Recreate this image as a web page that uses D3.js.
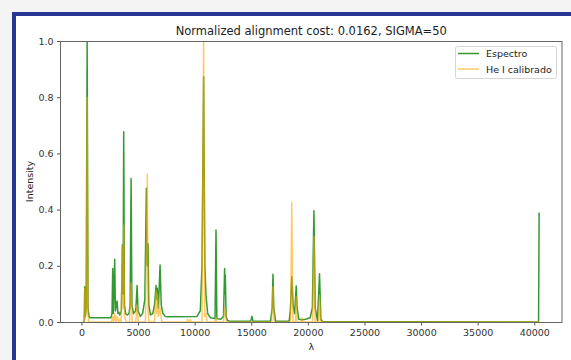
<!DOCTYPE html>
<html>
<head>
<meta charset="utf-8">
<script src="https://cdn.jsdelivr.net/npm/d3@7"></script>
<style>
  html, body { margin: 0; padding: 0; background: #f4f4f4; }
  svg { display: block; font-family: "DejaVu Sans", sans-serif; }
</style>
</head>
<body>
<svg id="chart" width="571" height="360"></svg>
<script>
// Espectro (observed spectrum): [lambda, intensity]
const espectro = [
  [160, 0.0], [250, 0.005], [291, 0.125], [340, 0.02], [420, 0.05], [503, 1.0],
  [580, 0.05], [660, 0.02], [760, 0.015], [2600, 0.015], [2700, 0.03], [2762, 0.19],
  [2820, 0.03], [2939, 0.223], [3000, 0.04], [3150, 0.075], [3220, 0.03], [3300, 0.035],
  [3380, 0.025], [3450, 0.03], [3530, 0.04], [3618, 0.274], [3680, 0.1], [3733, 0.677],
  [3800, 0.06], [3900, 0.03], [4050, 0.025], [4200, 0.03], [4300, 0.06], [4386, 0.511],
  [4460, 0.06], [4600, 0.03], [4800, 0.04], [4916, 0.13], [5000, 0.04], [5200, 0.02],
  [5400, 0.03], [5600, 0.08], [5736, 0.476], [5800, 0.2], [5886, 0.278], [5950, 0.06],
  [6100, 0.025], [6300, 0.03], [6450, 0.06], [6592, 0.13], [6650, 0.08], [6707, 0.12],
  [6800, 0.05], [6945, 0.203], [7050, 0.06], [7200, 0.03], [7400, 0.02], [7600, 0.019],
  [10200, 0.02], [10500, 0.04], [10650, 0.2], [10793, 0.873], [10900, 0.2], [11005, 0.093],
  [11150, 0.03], [11400, 0.015], [11800, 0.012], [11887, 0.327], [11960, 0.012],
  [12300, 0.01], [12550, 0.02], [12646, 0.19], [12680, 0.1], [12708, 0.167], [12780, 0.02],
  [12900, 0.005], [13100, 0.003], [14950, 0.003], [15064, 0.02], [15150, 0.003],
  [16700, 0.003], [16850, 0.05], [16918, 0.17], [16990, 0.05], [17150, 0.003],
  [18350, 0.003], [18450, 0.04], [18577, 0.161], [18700, 0.06], [18830, 0.03],
  [18974, 0.128], [19050, 0.05], [19200, 0.01], [19500, 0.008], [19800, 0.01],
  [20200, 0.015], [20400, 0.05], [20536, 0.396], [20650, 0.05], [20850, 0.005],
  [21030, 0.172], [21150, 0.01], [21300, 0.002], [40380, 0.0], [40430, 0.39]
];

// He I calibrado (reference lines, calibrated): [lambda, intensity]
const heCalibrado = [
  [160, 0.0], [260, 0.0], [291, 0.12], [340, 0.01], [430, 0.05], [503, 0.80],
  [570, 0.03], [650, 0.0], [2650, 0.0], [2762, 0.02], [2850, 0.0], [2939, 0.03],
  [3050, 0.0], [3150, 0.02], [3300, 0.0], [3400, 0.01], [3500, 0.0], [3618, 0.27],
  [3680, 0.05], [3733, 0.345], [3800, 0.02], [3950, 0.0], [4250, 0.0], [4386, 0.14],
  [4480, 0.0], [4800, 0.0], [4916, 0.06], [5020, 0.0], [5650, 0.0], [5820, 0.527],
  [5880, 0.05], [5950, 0.0], [6450, 0.0], [6592, 0.11], [6650, 0.03], [6707, 0.1],
  [6800, 0.02], [6945, 0.05], [7100, 0.0], [9300, 0.0], [9380, 0.01], [9460, 0.0],
  [9560, 0.0], [9620, 0.008], [9700, 0.0], [10650, 0.0], [10793, 1.0], [10900, 0.02],
  [11005, 0.03], [11100, 0.0], [11800, 0.0], [11887, 0.015], [11970, 0.0], [12550, 0.0],
  [12646, 0.05], [12708, 0.04], [12800, 0.0], [16800, 0.0], [16918, 0.126], [17020, 0.0],
  [18480, 0.0], [18577, 0.425], [18680, 0.0], [18900, 0.0], [18974, 0.09], [19060, 0.0],
  [19400, 0.0], [19477, 0.015], [19550, 0.0], [20420, 0.0], [20536, 0.304], [20640, 0.0],
  [20940, 0.0], [21030, 0.096], [21120, 0.0], [40430, 0.0]
];

const xTicks = [0, 5000, 10000, 15000, 20000, 25000, 30000, 35000, 40000];
const yTicks = [0.0, 0.2, 0.4, 0.6, 0.8, 1.0];
const seriesNames = ["Espectro", "He I calibrado"];

const svg = d3.select("#chart");

// outer frame (blue border on top/left, runs off canvas)
svg.append("rect")
  .attr("x", 14).attr("y", 14)
  .attr("width", 600).attr("height", 400)
  .attr("fill", "#fff")
  .attr("stroke", "#283593")
  .attr("stroke-width", 4);

const plotLeft = 60.5, plotRight = 562, plotTop = 41, plotBottom = 322;

const x = d3.scaleLinear().domain([-1850, 42450]).range([plotLeft, plotRight]);
const y = d3.scaleLinear().domain([0, 1]).range([plotBottom, plotTop]);

svg.append("defs").append("clipPath").attr("id", "plot-clip")
  .append("rect")
  .attr("x", plotLeft).attr("y", plotTop)
  .attr("width", plotRight - plotLeft).attr("height", plotBottom - plotTop);

const line = d3.line().x(d => x(d[0])).y(d => y(d[1]));

const plot = svg.append("g").attr("clip-path", "url(#plot-clip)");

plot.append("path")
  .datum(espectro)
  .attr("d", line)
  .attr("fill", "none")
  .attr("stroke", "green")
  .attr("stroke-opacity", 0.8)
  .attr("stroke-width", 1.5)
  .attr("stroke-linejoin", "round");

plot.append("path")
  .datum(heCalibrado)
  .attr("d", line)
  .attr("fill", "none")
  .attr("stroke", "orange")
  .attr("stroke-opacity", 0.6)
  .attr("stroke-width", 1.5)
  .attr("stroke-linejoin", "round");

// axes
const xAxis = svg.append("g")
  .attr("transform", `translate(0,${plotBottom})`)
  .call(d3.axisBottom(x).tickValues(xTicks).tickFormat(d3.format("d"))
    .tickSize(3.5).tickPadding(3.5).tickSizeOuter(0));

const yAxis = svg.append("g")
  .attr("transform", `translate(${plotLeft},0)`)
  .call(d3.axisLeft(y).tickValues(yTicks).tickFormat(d3.format(".1f"))
    .tickSize(3.5).tickPadding(3.5).tickSizeOuter(0));

[xAxis, yAxis].forEach(a => {
  a.select(".domain").remove();
  a.selectAll("line").attr("stroke", "#555");
  a.selectAll("text").attr("fill", "#333").attr("font-size", 9.5)
    .attr("font-family", "DejaVu Sans");
});

// spines
svg.append("rect")
  .attr("x", plotLeft).attr("y", plotTop + 0.5)
  .attr("width", plotRight - plotLeft).attr("height", plotBottom - plotTop)
  .attr("fill", "none")
  .attr("stroke", "#666")
  .attr("stroke-width", 1);

// title and labels
svg.append("text")
  .attr("x", (plotLeft + plotRight) / 2).attr("y", 35)
  .attr("text-anchor", "middle")
  .attr("font-size", 11.5)
  .attr("fill", "#222")
  .text("Normalized alignment cost: 0.0162, SIGMA=50");

svg.append("text")
  .attr("x", (plotLeft + plotRight) / 2).attr("y", 350)
  .attr("text-anchor", "middle")
  .attr("font-size", 9.5)
  .attr("fill", "#222")
  .text("λ");

svg.append("text")
  .attr("transform", `translate(33,${(plotTop + plotBottom) / 2}) rotate(-90)`)
  .attr("text-anchor", "middle")
  .attr("font-size", 9.5)
  .attr("fill", "#222")
  .text("Intensity");

// legend
const legend = svg.append("g");
legend.append("rect")
  .attr("x", 455.5).attr("y", 46.5)
  .attr("width", 101).attr("height", 32)
  .attr("rx", 2)
  .attr("fill", "#fff").attr("fill-opacity", 0.8)
  .attr("stroke", "#d6d6d6");

const legendColors = [["green", 0.8], ["orange", 0.6]];
seriesNames.forEach((name, i) => {
  const ly = 53.5 + i * 15.5;
  legend.append("line")
    .attr("x1", 458).attr("x2", 479)
    .attr("y1", ly).attr("y2", ly)
    .attr("stroke", legendColors[i][0])
    .attr("stroke-opacity", legendColors[i][1])
    .attr("stroke-width", 1.5);
  legend.append("text")
    .attr("x", 486).attr("y", ly + 3.5)
    .attr("font-size", 9.5)
    .attr("fill", "#222")
    .text(name);
});
</script>
</body>
</html>
